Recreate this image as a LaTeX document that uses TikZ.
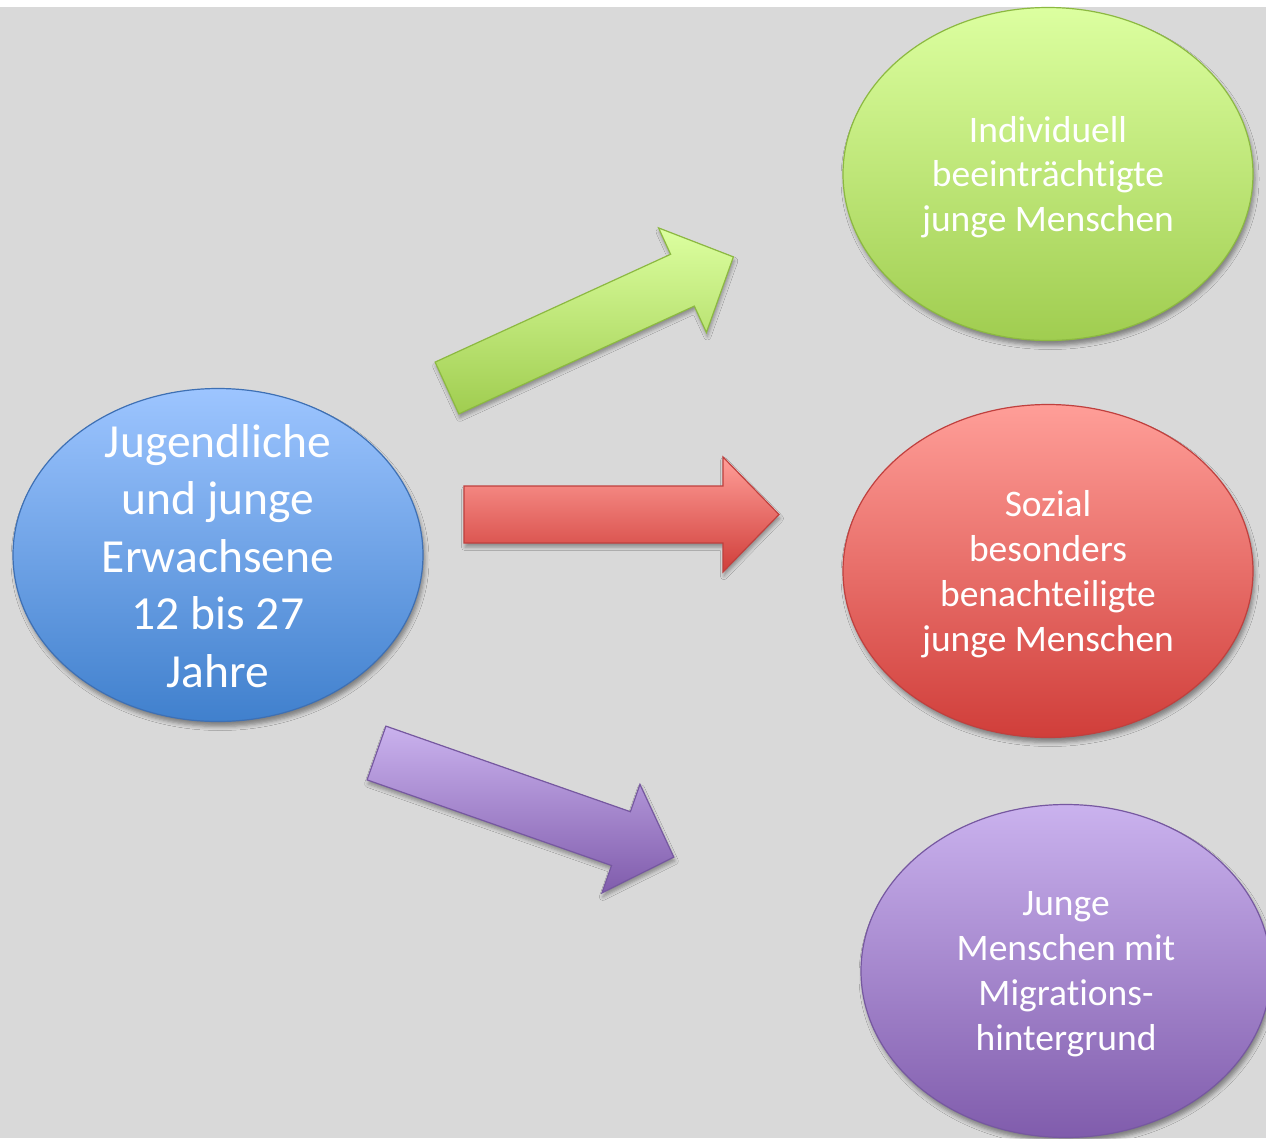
\documentclass[tikz,border=0pt]{standalone}
\usepackage{fontspec}
\setmainfont{Carlito}[Ligatures={NoCommon,NoRequired,NoContextual}]
\usetikzlibrary{shapes.geometric,shadows.blur}
\definecolor{bg}{RGB}{217,217,217}
\definecolor{blueT}{RGB}{157,197,255}
\definecolor{blueB}{RGB}{64,128,205}
\definecolor{blueD}{RGB}{62,112,180}
\definecolor{greenT}{RGB}{220,255,160}
\definecolor{greenB}{RGB}{160,205,80}
\definecolor{greenD}{RGB}{140,185,65}
\definecolor{redT}{RGB}{255,158,152}
\definecolor{redB}{RGB}{208,62,58}
\definecolor{redD}{RGB}{192,64,62}
\definecolor{purT}{RGB}{202,178,238}
\definecolor{purB}{RGB}{128,92,172}
\definecolor{purD}{RGB}{118,88,160}
\tikzset{
  blob/.style={ellipse, minimum width=410pt, minimum height=333pt, inner sep=0pt,
    line width=1.2pt,
    blur shadow={shadow xshift=2pt, shadow yshift=-5pt, shadow blur radius=4pt, shadow opacity=40}},
  blobtext/.style={text=white, align=center, inner sep=0pt,
    font=\fontsize{37.5}{44.8}\selectfont},
  blockarrow/.style={line width=1.2pt, line join=miter,
    blur shadow={shadow xshift=1pt, shadow yshift=-4pt, shadow blur radius=3.5pt, shadow opacity=35}}
}
\begin{document}
\begin{tikzpicture}[x=1pt,y=-1pt]
\useasboundingbox (0,0) rectangle (1266,1138);
\clip (0,0) rectangle (1266,1138);
\fill[white] (0,0) rectangle (1266,7);
\fill[bg] (0,7) rectangle (1266,1138);

% block arrows
\begin{scope}[shift={(447,388)}, rotate=24.6]
\draw[blockarrow, draw=greenD, top color=greenT, bottom color=greenB]
  (0,-28.5) -- (259,-28.5) -- (259,-57.5) -- (315,0) -- (259,57.5) -- (259,28.5) -- (0,28.5) -- cycle;
\end{scope}
\begin{scope}[shift={(464,514.5)}]
\draw[blockarrow, draw=redD, top color=redT, bottom color=redB]
  (0,-28.5) -- (259,-28.5) -- (259,-57.5) -- (315,0) -- (259,57.5) -- (259,28.5) -- (0,28.5) -- cycle;
\end{scope}
\begin{scope}[shift={(376.5,753)}, rotate=-19.3]
\draw[blockarrow, draw=purD, top color=purT, bottom color=purB]
  (0,-28.5) -- (259,-28.5) -- (259,-57.5) -- (315,0) -- (259,57.5) -- (259,28.5) -- (0,28.5) -- cycle;
\end{scope}

% ellipses
\node[blob, draw=blueD, top color=blueT, bottom color=blueB] (src) at (218,555) {};
\node[blobtext, font=\fontsize{47.5}{57.5}\selectfont] (srct) at ([yshift=-1pt]src.center)
  {Jugendliche\\und junge\\Erwachsene\\12 bis 27\\Jahre};
\node[blob, draw=greenD, top color=greenT, bottom color=greenB] (ind) at (1048,174) {};
\node[blobtext] (indt) at ([yshift=-3pt]ind.center)
  {Individuell\\beeinträchtigte\\junge Menschen};
\node[blob, draw=redD, top color=redT, bottom color=redB] (soz) at (1048,571) {};
\node[blobtext] (sozt) at ([yshift=-3pt]soz.center)
  {Sozial\\besonders\\benachteiligte\\junge Menschen};
\node[blob, draw=purD, top color=purT, bottom color=purB] (mig) at (1066,971) {};
\node[blobtext] (migt) at ([yshift=-3pt]mig.center)
  {Junge\\Menschen mit\\Migrations-\\hintergrund};
\end{tikzpicture}
\end{document}
